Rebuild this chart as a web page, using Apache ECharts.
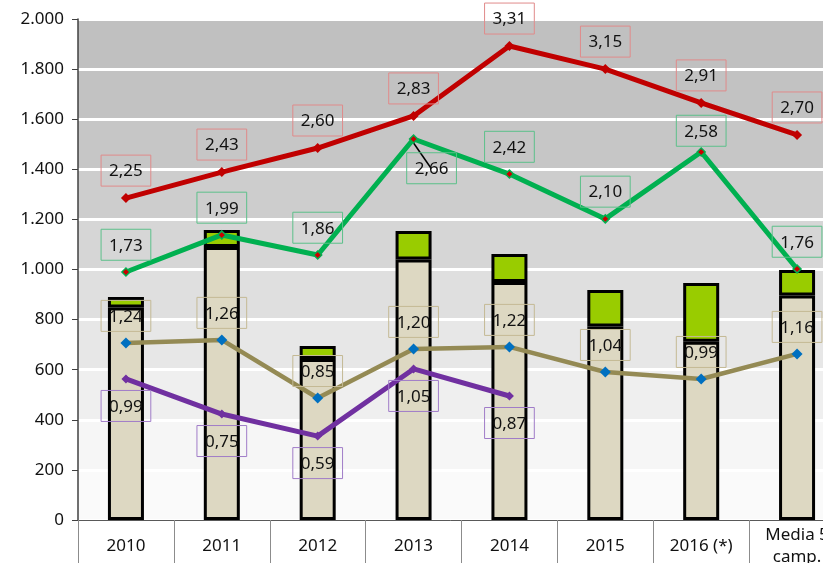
<!DOCTYPE html>
<html>
<head>
<meta charset="utf-8">
<script src="https://cdn.jsdelivr.net/npm/echarts@6/dist/echarts.min.js"></script>
<style>
  html, body { margin: 0; padding: 0; background: #fff; }
  #chart { width: 823px; height: 563px; }
</style>
</head>
<body>
<div id="chart"></div>
<script>
const years = ["2010", "2011", "2012", "2013", "2014", "2015", "2016 (*)", "Media 5\ncamp."];
const yTicks = [0, 200, 400, 600, 800, 1000, 1200, 1400, 1600, 1800, 2000];

// barras apiladas
const baseBar = [848, 1090, 643, 1040, 950, 772, 712, 896];
const topBar = [42, 68, 52, 114, 112, 146, 234, 102];

// lineas y sus etiquetas
const redLine = [1285, 1389, 1485, 1613, 1892, 1800, 1665, 1537];
const redRatio = [2.25, 2.43, 2.6, 2.83, 3.31, 3.15, 2.91, 2.7];
const greenLine = [990, 1138, 1058, 1521, 1381, 1202, 1469, 1002];
const greenRatio = [1.73, 1.99, 1.86, 2.66, 2.42, 2.1, 2.58, 1.76];
const oliveLine = [707, 719, 487, 683, 691, 591, 563, 663];
const oliveRatio = [1.24, 1.26, 0.85, 1.2, 1.22, 1.04, 0.99, 1.16];
const purpleLine = [563, 423, 335, 603, 495, null, null, null];
const purpleRatio = [0.99, 0.75, 0.59, 1.05, 0.87];

const bandColors = ["#fafafa", "#f6f6f6", "#efefef", "#e7e7e7", "#dfdfdf", "#d6d6d6", "#cdcdcd", "#c6c6c6", "#c2c2c2", "#c0c0c0"];

const FONT = "Noto Sans";

function fmtRatio(v) {
  return v.toFixed(2).replace(".", ",");
}

function fmtThousands(v) {
  return String(v).replace(/\B(?=(\d{3})+(?!\d))/g, ".");
}

function boxLabel(border, position, distance) {
  return {
    show: true,
    position: position,
    distance: distance,
    color: "#111",
    fontFamily: FONT,
    fontSize: 17,
    lineHeight: 21,
    padding: [6, 8, 4, 8],
    borderColor: border,
    borderWidth: 1,
    formatter: (p) => p.data.txt,
  };
}

function lineData(values, ratios) {
  return values.map((v, i) => ({ value: v, txt: ratios[i] !== undefined ? fmtRatio(ratios[i]) : "" }));
}

const greenData = lineData(greenLine, greenRatio);
// 2,66 va abajo a la derecha, con linea guia
greenData[3].label = { position: "bottom", distance: 9, offset: [18, 0] };
greenData[3].labelLine = { show: true, lineStyle: { color: "#000", width: 1.5 } };
greenData[6].label = { distance: 1 };

const chart = echarts.init(document.getElementById("chart"));

chart.setOption({
  animation: false,
  grid: { left: 78, top: 19, width: 767, height: 501, outerBoundsMode: "none", containLabel: false },
  xAxis: {
    type: "category",
    data: years,
    axisLine: { lineStyle: { color: "#595959", width: 1 } },
    axisTick: { show: true, length: 45, lineStyle: { color: "#8c8c8c" } },
    axisLabel: {
      color: "#111",
      fontFamily: FONT,
      fontSize: 17,
      lineHeight: 22,
      margin: 26,
      verticalAlign: "middle",
      interval: 0,
    },
  },
  yAxis: {
    type: "value",
    min: yTicks[0],
    max: yTicks[yTicks.length - 1],
    interval: 200,
    axisLine: { show: true, lineStyle: { color: "#404040", width: 1.5 } },
    axisTick: { show: true, length: 6, lineStyle: { color: "#404040" } },
    axisLabel: {
      color: "#111",
      fontFamily: FONT,
      fontSize: 17,
      margin: 14,
      formatter: (v) => fmtThousands(v),
    },
    splitLine: { show: true, lineStyle: { color: "#ffffff", width: 3 } },
    splitArea: { show: true, areaStyle: { color: bandColors } },
  },
  series: [
    {
      name: "base",
      type: "bar",
      stack: "total",
      barWidth: 36,
      data: baseBar,
      itemStyle: { color: "#ddd8c2", borderColor: "#000", borderWidth: 3 },
      z: 2,
    },
    {
      name: "extra",
      type: "bar",
      stack: "total",
      barWidth: 36,
      data: topBar,
      itemStyle: { color: "#99cc00", borderColor: "#000", borderWidth: 3 },
      z: 2,
    },
    {
      name: "olive",
      type: "line",
      data: lineData(oliveLine, oliveRatio),
      symbol: "diamond",
      symbolSize: 11,
      lineStyle: { color: "#948a54", width: 4.5 },
      itemStyle: { color: "#0070c0" },
      label: boxLabel("#c4b994", "top", 6),
      z: 5,
    },
    {
      name: "purple",
      type: "line",
      data: lineData(purpleLine, purpleRatio),
      symbol: "diamond",
      symbolSize: 9,
      lineStyle: { color: "#7030a0", width: 5 },
      itemStyle: { color: "#7030a0" },
      label: boxLabel("#a07cc8", "bottom", 7),
      z: 5,
    },
    {
      name: "green",
      type: "line",
      data: greenData,
      symbol: "diamond",
      symbolSize: 8,
      lineStyle: { color: "#00b050", width: 5 },
      itemStyle: { color: "#cc0000", borderColor: "#00b050", borderWidth: 1.5 },
      label: boxLabel("#5cc08a", "top", 7),
      z: 6,
    },
    {
      name: "red",
      type: "line",
      data: lineData(redLine, redRatio),
      symbol: "diamond",
      symbolSize: 10,
      lineStyle: { color: "#c00000", width: 5 },
      itemStyle: { color: "#c00000" },
      label: boxLabel("#e08a8a", "top", 7),
      z: 7,
    },
  ],
});
</script>
</body>
</html>
